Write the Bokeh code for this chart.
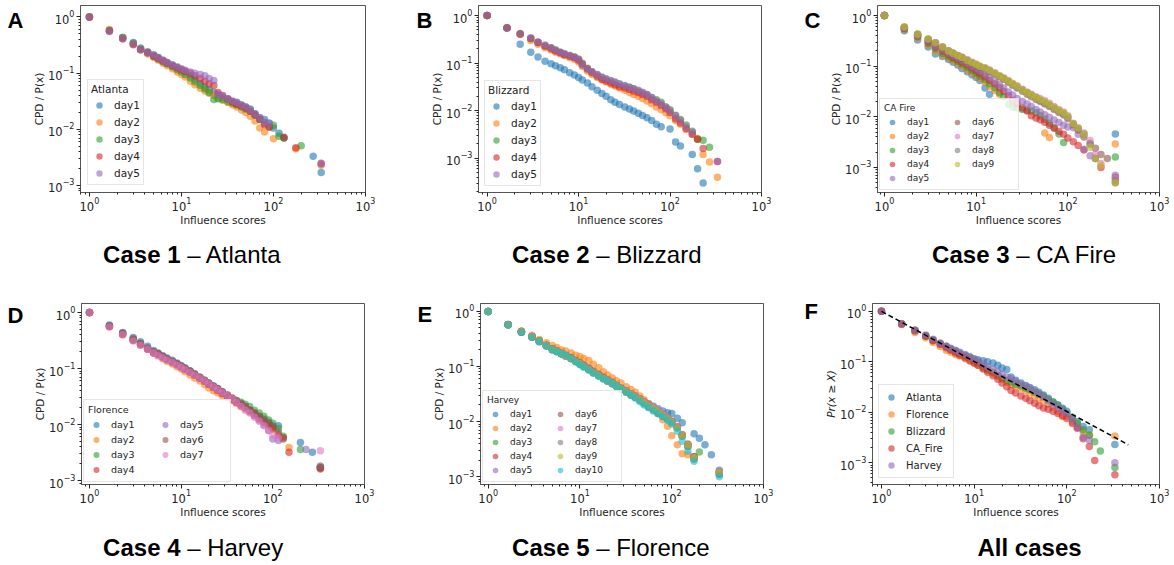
from bokeh.plotting import figure
from bokeh.models import Range1d, FixedTicker, LogTickFormatter, Legend, LegendItem, Label
from bokeh.layouts import column, row
from bokeh.embed import file_html
from bokeh.resources import INLINE

N = None
TAB10 = ["#1f77b4", "#ff7f0e", "#2ca02c", "#d62728", "#9467bd",
         "#8c564b", "#e377c2", "#7f7f7f", "#bcbd22", "#17becf"]

# influence-score grid shared by all series (x values)
G = [1, 1.65, 2.3, 3, 3.6, 4.3, 5, 5.6, 6.3, 7,
     8, 9, 10, 11, 12.5, 14, 16, 18, 20, 22.5,
     25, 28, 32, 36, 40, 45, 50, 56, 63, 71,
     80, 90, 100, 115, 130, 150, 175, 200, 230, 270,
     330]

# ---------------- Panel A : Atlanta ----------------
a_names = ["day1", "day2", "day3", "day4", "day5"]
a_day1 = [1, .57, .43, .35, .28, .24, .21, .19, .17, .155,
          .14, .125, .115, .105, .09, .078, .065, .056, .05, .045,
          .041, .037, .034, .031, .03, .027, .025, .023, .019, .016,
          .015, .013, .0105, .0085, .007, N, N, N, N, .0033,
          .0017]
a_day2 = [1, .6, .42, .33, .26, .22, .19, .17, .15, .135,
          .12, .105, .095, .085, .072, .062, .054, .048, .044, .04,
          .036, .033, .03, .027, .025, .022, .02, .017, .014, .0105,
          .009, N, .0068, N, N, N, .0045, N, N, N,
          .0023]
a_day3 = [1, .58, .43, .34, .27, .23, .2, .18, .16, .145,
          .13, .115, .105, .095, .082, .07, .06, .052, .045, .034,
          .035, .034, .031, .029, .027, .025, .023, .021, .018, .015,
          .013, .011, .0118, .0075, .007, N, N, .0051, N, N,
          N]
a_day4 = [1, .56, .41, .32, .26, .23, .2, .18, .165, .15,
          .135, .125, .115, .108, .1, .09, .08, .072, .065, .06,
          .045, .04, .035, .031, .028, .026, .024, .021, .018, .015,
          .012, .011, N, N, .0072, N, .0047, N, N, N,
          .0025]
a_day5 = [1, .55, .41, .33, .26, .23, .21, .19, .17, .155,
          .14, .13, .12, .112, .105, .1, .095, .09, .08, .074,
          .042, .039, .035, .032, .03, .027, .025, .022, .019, .016,
          .0135, .0125, N, N, N, N, N, N, N, N,
          .0024]

# ---------------- Panel B : Blizzard ----------------
b_names = ["day1", "day2", "day3", "day4", "day5"]
b_day1 = [1, .55, .25, .17, .135, .11, .097, .088, .08, .073,
          .063, .056, .05, .044, .038, .032, .027, .023, .02, .017,
          .015, .0135, .012, .0108, .0098, .0088, .0079, .0071, .0062, .0052,
          .0046, N, .0041, .0022, .0018, N, .0012, .0006, .0003, N,
          N]
b_day2 = [1, .56, .4, .3, .25, .21, .19, .17, .155, .145,
          .13, .12, .105, .085, .068, .058, .05, .044, .04, .036,
          .033, .03, .027, .024, .022, .02, .018, .016, .014, .012,
          .0105, .009, .0078, .0062, .0052, .004, .0032, .0026, .0012, .00083,
          .0004]
b_day3 = [1, .55, .42, .33, .27, .23, .21, .19, .17, .155,
          .145, .135, .12, .1, .078, .066, .057, .05, .046, .042,
          .039, .036, .033, .031, .029, .026, .024, .022, .019, .017,
          .015, .012, .0105, .008, .0065, .005, .0037, .0025, .0024, .0017,
          N]
b_day4 = [1, .55, .41, .33, .27, .23, .2, .18, .165, .15,
          .14, .13, .115, .095, .075, .063, .053, .046, .042, .038,
          .035, .032, .03, .028, .026, .024, .022, .02, .017, .015,
          .013, .011, .0092, .0068, .0055, .0042, .0032, .0025, .0016, N,
          .00085]
b_day5 = [1, .55, .41, .34, .28, .24, .21, .19, .17, .16,
          .145, .135, .12, .09, .075, .066, .058, .051, .047, .043,
          .04, .037, .034, .031, .029, .027, .024, .022, .019, .016,
          .014, .012, .01, .0078, .0062, .0046, .0035, N, N, N,
          .00085]

# ---------------- Panel C : CA Fire ----------------
c_names = ["day1", "day2", "day3", "day4", "day5", "day6", "day7", "day8", "day9"]
c_day1 = [1, .5, .33, .24, .175, .155, .135, .12, .105, .09,
          .078, .068, .06, .052, .037, .028, N, N, N, N,
          N, N, N, N, N, N, N, N, N, N,
          N, N, N, N, N, N, N, N, N, N,
          .0046]
c_day2 = [1, .53, .36, .26, .2, .165, .145, .13, .115, .1,
          .085, .075, .066, .058, .048, .04, .033, .028, N, N,
          N, N, N, N, N, N, N, .0048, .0039, N,
          N, N, N, N, N, N, N, N, N, N,
          .0029]
c_day3 = [1, .55, .38, .28, .22, .18, .155, .14, .125, .11,
          .095, .083, .073, .064, .054, .045, .037, .03, .025, .018,
          .0155, .015, .014, .0135, .013, .012, .0105, .009, .0075, .006,
          .0046, .0031, N, N, N, N, N, N, N, N,
          .0016]
c_day4 = [1, .56, .4, .3, .24, .2, .17, .15, .135, .12,
          .105, .092, .082, .072, .062, .053, .045, .038, .032, .026,
          .021, .018, .015, .013, .0105, .0095, .0088, .0078, .0068, .006,
          .0052, .0045, .0038, .0032, .0027, .0022, N, N, .001, N,
          .00064]
c_day5 = [1, .57, .41, .31, .25, .21, .18, .16, .145, .13,
          .115, .1, .09, .08, .07, .06, .05, .043, .037, .031,
          .027, .023, .02, .018, .016, .014, .0125, .011, .0098, .0087,
          .0077, .0068, .0063, .0061, .0045, .0023, .0017, .0015, N, N,
          .0007]
c_day6 = [1, .58, .42, .33, .28, .23, .2, .18, .16, .145,
          .13, .115, .104, .096, .088, .079, .069, .061, .055, .048,
          .042, .037, .032, .028, .025, .022, .02, .018, .016, .014,
          .0122, .0108, .0092, .007, .0055, .004, .003, .0024, .0018, .0015,
          .0005]
c_day7 = [1, .59, .42, .34, .29, .24, .2, .18, .165, .15,
          .135, .12, .11, .1, .093, .084, .074, .065, .059, .052,
          .046, .041, .035, .031, .028, .025, .023, .021, .0185, .016,
          .014, .0125, .0105, .0075, .006, .0048, .0034, .0018, .0012, N,
          .0006]
c_day8 = [1, .59, .43, .34, .29, .24, .2, .18, .16, .15,
          .13, .117, .106, .098, .09, .081, .071, .063, .057, .05,
          .044, .039, .034, .03, .027, .024, .021, .019, .017, .015,
          .013, .0115, .0098, .0072, .0058, .0045, .0028, .0015, N, N,
          .00055]
c_day9 = [1, .6, .43, .35, .29, .24, .2, .18, .16, .148,
          .13, .118, .108, .1, .092, .083, .073, .064, .058, .051,
          .045, .04, .034, .03, .027, .024, .022, .02, .0177, .0155,
          .0135, .012, .0102, .0073, .006, .0046, .0025, .0015, .0011, N,
          .0005]

# ---------------- Panel D : Florence (Case 4 caption) ----------------
d_names = ["day1", "day2", "day3", "day4", "day5", "day6", "day7"]
d_day1 = [1, .6, .44, .36, .3, .25, .21, .19, .17, .155,
          .14, .125, .113, .103, .09, .08, .07, .062, .055, .049,
          .044, .038, .032, .028, .025, .023, .021, .018, .016, .014,
          .0125, .011, .0095, .0095, N, N, N, .0048, N, .0032,
          .0017]
d_day2 = [1, .56, .4, .32, .26, .22, .19, .17, .15, .135,
          .12, .108, .098, .088, .077, .068, .06, .052, .045, .04,
          .037, .033, .03, .027, .024, .021, .019, .017, .0145, .0125,
          .011, .0095, .0082, N, N, .0039, N, N, N, N,
          .0018]
d_day3 = [1, .58, .42, .33, .28, .23, .2, .18, .16, .148,
          .132, .12, .108, .098, .088, .078, .068, .06, .053, .047,
          .042, .037, .033, .029, .027, .025, .023, .021, .018, .016,
          .014, .012, .0105, .0085, .0062, N, N, .0036, N, N,
          .0017]
d_day4 = [1, .57, .41, .32, .27, .22, .19, .18, .16, .145,
          .13, .118, .106, .097, .086, .076, .067, .059, .052, .046,
          .041, .036, .032, .028, .025, .022, .02, .018, .0155, .013,
          .011, .0098, .0085, .0065, .0058, .0032, N, N, N, N,
          .0016]
d_day5 = [1, .57, .42, .33, .27, .23, .2, .18, .16, .148,
          .133, .12, .11, .1, .09, .08, .07, .061, .054, .048,
          .043, .038, .033, .029, .026, .023, .02, .017, .0145, .012,
          .0098, .0078, .0055, .0052, N, N, N, N, .0036, N,
          .0018]
d_day6 = [1, .57, .43, .34, .28, .23, .2, .185, .165, .15,
          .135, .122, .11, .1, .09, .08, .07, .062, .055, .049,
          .044, .039, .034, .03, .027, .024, .021, .018, .016, .014,
          .012, .0105, .009, .0072, .0055, N, N, N, N, N,
          .0017]
d_day7 = [1, .55, .4, .31, .26, .22, .19, .17, .155, .14,
          .128, .115, .105, .095, .085, .076, .068, .06, .053, .047,
          .042, .037, .033, .029, .025, .021, .018, .016, .0135, .0115,
          .0095, .0078, .0065, .0058, N, N, N, N, N, N,
          .0034]

# ---------------- Panel E : Harvey (Case 5 caption) ----------------
e_names = ["day1", "day2", "day3", "day4", "day5", "day6", "day7", "day8", "day9", "day10"]
e_day1 = [1, .58, .43, .35, .29, .245, .21, .19, .175, .16,
          .145, .13, .118, .107, .095, .083, .073, .065, .058, .052,
          .046, .041, .036, .032, .029, .026, .023, .021, .019, .017,
          .0155, .0145, .014, .0115, .0095, N, .006, .005, .0038, .0025,
          .0013]
e_day2 = [1, .58, .44, .37, .31, .27, .24, .22, .2, .19,
          .175, .16, .15, .14, .128, .11, .095, .08, .07, .062,
          .055, .05, .043, .038, .034, .029, .025, .021, .0177, .014,
          .0108, .0082, .0055, .0038, .0026, .0025, N, N, N, N,
          .0011]
e_day3 = [1, .57, .42, .35, .29, .24, .21, .19, .17, .158,
          .142, .127, .114, .102, .09, .079, .07, .062, .056, .05,
          .045, .04, .035, .031, .028, .025, .022, .019, .017, .015,
          .013, .0115, .01, .0078, .0055, .0035, .0021, .0028, N, N,
          .0012]
e_day4 = [1, .57, .43, .35, .29, .24, .205, .19, .172, .158,
          .142, .127, .114, .103, .09, .079, .069, .061, .055, .049,
          .044, .039, .035, .031, .028, .025, .022, .019, .017, .015,
          .013, .0115, .01, .008, .0056, .0038, .0023, N, N, N,
          .0012]
e_day5 = [1, .58, .42, .35, .29, .24, .205, .188, .17, .156,
          .14, .125, .112, .101, .089, .078, .069, .061, .055, .049,
          .044, .039, .035, .031, .028, .025, .022, .019, .017, .015,
          .013, .0115, .0098, .0078, .0055, .0036, .0022, N, N, N,
          .0011]
e_day6 = [1, .57, .43, .34, .29, .24, .205, .188, .17, .155,
          .14, .125, .112, .101, .089, .078, .069, .061, .055, .05,
          .045, .04, .036, .032, .029, .026, .023, .02, .0175, .0155,
          .0135, .0118, .01, .008, .0058, .0039, .0023, N, N, N,
          .0012]
e_day7 = [1, .58, .43, .35, .29, .24, .205, .19, .172, .157,
          .141, .126, .113, .102, .09, .079, .07, .062, .056, .05,
          .045, .04, .036, .032, .029, .026, .023, .02, .018, .016,
          .014, .012, .0102, .0081, .0057, .0038, .0022, N, N, N,
          .0012]
e_day8 = [1, .57, .42, .34, .28, .235, .2, .185, .168, .153,
          .138, .123, .11, .1, .088, .077, .068, .06, .054, .048,
          .043, .038, .034, .03, .027, .024, .021, .018, .016, .014,
          .0125, .011, .0095, .0076, .0054, .0036, .0021, N, N, N,
          .0011]
e_day9 = [1, .57, .43, .35, .29, .24, .205, .188, .17, .155,
          .14, .125, .112, .1, .088, .077, .068, .06, .054, .049,
          .044, .039, .035, .031, .028, .025, .022, .019, .017, .015,
          .013, .0112, .0097, .0077, .0055, .0037, .0022, N, N, N,
          .0012]
e_day10 = [1, .57, .42, .34, .28, .235, .2, .185, .17, .16,
           .14, .12, .107, .097, .085, .075, .066, .059, .054, .049,
           .044, .039, .034, .03, .027, .023, .02, .018, .0155, .0138,
           .0122, .0105, .009, .0067, .0044, .0029, .0019, N, N, N,
           .001]

# ---------------- Panel F : all cases ----------------
f_names = ["Atlanta", "Florence", "Blizzard", "CA_Fire", "Harvey"]
f_atl = [1, .56, .42, .33, .27, .23, .2, .18, .165, .15,
         .135, .125, .115, .11, .105, .1, .095, .085, .075, .07,
         .05, .043, .038, .034, .031, .028, .025, .022, .019, .016,
         .014, .012, .0105, .008, .0065, .0052, .0045, N, N, N,
         .0023]
f_flo = [1, .55, .38, .3, .24, .2, .17, .155, .14, .13,
         .115, .105, .095, .085, .075, .067, .058, .051, .045, .04,
         .036, .033, .03, .027, .024, .021, .019, .017, .0145, .0125,
         .0105, .0082, .0082, .0065, .005, .004, .0035, N, N, N,
         .0034]
f_bli = [1, .57, .42, .33, .27, .23, .2, .18, .16, .145,
         .13, .12, .105, .095, .08, .07, .062, .054, .048, .043,
         .04, .036, .033, .03, .028, .025, .023, .021, .018, .016,
         .014, .0115, .0095, .0075, .006, .0045, .0035, .0026, .0017, N,
         .0008]
f_caf = [1, .56, .41, .32, .26, .22, .19, .17, .15, .135,
         .12, .105, .095, .085, .072, .062, .053, .045, .038, .032,
         .027, .024, .021, .019, .017, .015, .0135, .0122, .0115, .0105,
         .0095, .0085, .0075, .006, .0048, .003, .0021, .0011, N, N,
         .00058]
f_har = [1, .57, .42, .34, .28, .235, .205, .185, .17, .155,
         .14, .125, .112, .102, .09, .08, .07, .063, .056, .05,
         .046, .041, .036, .033, .03, .026, .023, .02, .017, .0145,
         .0125, .011, .0095, .0072, .005, .0032, .0028, N, N, N,
         .001]
fit_x = [1, 460]
fit_y = [1, 0.00227]

X_MAJOR = [1, 10, 100, 1000]
X_MINOR = [m * 10.0 ** e for e in range(-1, 3) for m in range(2, 10)]
Y_MAJOR = [1e-4, 1e-3, 1e-2, 1e-1, 1]
Y_MINOR = [m * 10.0 ** e for e in range(-4, 1) for m in range(2, 10)]

FRAME_COL = "#555555"
TXT = "#222222"


def txt_label(x, y, text, size, style, align):
    return Label(x=x, y=y, x_units="screen", y_units="screen", text=text,
                 text_font="Liberation Sans", text_font_size=size,
                 text_font_style=style, text_color="black",
                 text_align=align, text_baseline="alphabetic")


def make_panel(cfg):
    w, h, l, r, t, b = cfg["box"]
    p = figure(x_axis_type="log", y_axis_type="log",
               x_range=Range1d(*cfg["xr"]), y_range=Range1d(*cfg["yr"]),
               width=w, height=h,
               min_border_left=l, min_border_right=r,
               min_border_top=t, min_border_bottom=b,
               output_backend="svg", toolbar_location=None,
               background_fill_color="white", border_fill_color="white",
               outline_line_color=FRAME_COL, outline_line_width=1)
    p.grid.visible = False
    for ax, maj, mnr in ((p.xaxis[0], X_MAJOR, X_MINOR), (p.yaxis[0], Y_MAJOR, Y_MINOR)):
        ax.ticker = FixedTicker(ticks=maj, minor_ticks=mnr)
        ax.formatter = LogTickFormatter()
        ax.axis_line_color = FRAME_COL
        ax.major_tick_line_color = TXT
        ax.minor_tick_line_color = TXT
        ax.major_tick_in = 0
        ax.major_tick_out = 4
        ax.minor_tick_in = 0
        ax.minor_tick_out = 2
        ax.major_label_text_font = "DejaVu Sans"
        ax.major_label_text_font_size = "11.5px"
        ax.major_label_text_color = TXT
        ax.axis_label_text_font = "DejaVu Sans"
        ax.axis_label_text_font_size = "10.5px"
        ax.axis_label_text_font_style = "normal"
        ax.axis_label_text_color = TXT
    p.xaxis.axis_label = "Influence scores"
    p.xaxis.major_label_standoff = 0
    p.xaxis.axis_label_standoff = 0
    p.yaxis.axis_label = cfg["ylabel"]
    p.yaxis.major_label_standoff = 2
    p.yaxis.axis_label_standoff = 0
    if cfg.get("ylabel_italic"):
        p.yaxis.axis_label_text_font_style = "italic"

    items = []
    for i, (name, ys) in enumerate(zip(cfg["names"], cfg["series"])):
        xs = [x for x, y in zip(G, ys) if y is not None]
        yv = [y for y in ys if y is not None]
        rr = p.scatter(xs, yv, size=7.5, marker="circle", fill_color=TAB10[i],
                       fill_alpha=0.6, line_color=None)
        items.append(LegendItem(label=name, renderers=[rr]))
    if cfg.get("fit"):
        p.line(fit_x, fit_y, line_color="black", line_width=1.5, line_dash="5 3")

    lg = cfg["legend"]
    kw = dict(items=items, location="bottom_left",
              label_text_font="DejaVu Sans", label_text_font_size=lg["fs"],
              label_text_color=TXT,
              glyph_width=16, glyph_height=lg["gh"], label_height=lg["gh"],
              label_standoff=lg.get("ls", 7), spacing=lg["sp"],
              padding=lg["pad"], margin=lg["margin"],
              border_line_color="#cccccc", border_line_width=1,
              background_fill_color="white", background_fill_alpha=0.8)
    if lg.get("title"):
        kw.update(title=lg["title"], title_text_font="DejaVu Sans",
                  title_text_font_size=lg["fs"], title_text_font_style="normal",
                  title_text_color=TXT, title_standoff=2)
    if lg.get("nrows"):
        kw.update(nrows=lg["nrows"], label_width=lg["lw"])
    p.add_layout(Legend(**kw))

    # panel letter in the left side panel (outside the y axis)
    lx, ly = cfg["letter"]
    p.add_layout(txt_label(lx, ly, cfg["letter_text"], "22px", "bold", "left"), "left")
    return p


def make_caption(width, height, x, y, bold, rest):
    c = figure(width=width, height=height, x_range=Range1d(0, 1), y_range=Range1d(0, 1),
               min_border=0, x_axis_location=None, y_axis_location=None,
               output_backend="svg", toolbar_location=None,
               outline_line_color=None, background_fill_color="white",
               border_fill_color="white")
    c.grid.visible = False
    if rest:
        c.add_layout(txt_label(x, y, bold, "24px", "bold", "right"))
        c.add_layout(txt_label(x, y, rest, "24px", "normal", "left"))
    else:
        c.add_layout(txt_label(x, y, bold, "24px", "bold", "left"))
    return c


LG_BIG = dict(fs="10.5px", gh=16, sp=1, pad=3, margin=7)
panels = [
    dict(xr=(0.8, 1000), yr=(7.5e-4, 1.6), box=(390, 232, 80, 25, 5, 40),
         ylabel="CPD / P(x)", names=a_names,
         series=[a_day1, a_day2, a_day3, a_day4, a_day5],
         legend=dict(LG_BIG, title="Atlanta"),
         letter=(-7, 172), letter_text="A"),
    dict(xr=(0.805, 1000), yr=(1.9e-4, 1.63), box=(390, 232, 88, 19, 5, 40),
         ylabel="CPD / P(x)", names=b_names,
         series=[b_day1, b_day2, b_day3, b_day4, b_day5],
         legend=dict(LG_BIG, title="Blizzard", margin=6),
         letter=(4, 172), letter_text="B"),
    dict(xr=(0.84, 1000), yr=(3.2e-4, 1.58), box=(394, 232, 97, 15, 5, 40),
         ylabel="CPD / P(x)", names=c_names,
         series=[c_day1, c_day2, c_day3, c_day4, c_day5, c_day6, c_day7, c_day8, c_day9],
         legend=dict(fs="9px", gh=14, sp=0, pad=4, margin=2, title="CA Fire", nrows=5, lw=42),
         letter=(-7, 172), letter_text="C"),
    dict(xr=(0.818, 1000), yr=(8.5e-4, 1.45), box=(390, 242, 81, 26, 21, 40),
         ylabel="CPD / P(x)", names=d_names,
         series=[d_day1, d_day2, d_day3, d_day4, d_day5, d_day6, d_day7],
         legend=dict(fs="9.5px", gh=15, sp=0, pad=4, margin=2, title="Florence", nrows=4, lw=46),
         letter=(-8, 169), letter_text="D"),
    dict(xr=(0.824, 1000), yr=(7.2e-4, 1.39), box=(390, 242, 90, 17, 20, 40),
         ylabel="CPD / P(x)", names=e_names,
         series=[e_day1, e_day2, e_day3, e_day4, e_day5, e_day6, e_day7, e_day8, e_day9, e_day10],
         legend=dict(fs="9px", gh=14, sp=0, pad=4, margin=2, title="Harvey", nrows=5, lw=42),
         letter=(2, 170), letter_text="E"),
    dict(xr=(0.8, 1000), yr=(3.7e-4, 1.43), box=(394, 242, 92, 15, 20, 37),
         ylabel="Pr(x \u2265 X)", ylabel_italic=True, names=f_names,
         series=[f_atl, f_flo, f_bli, f_caf, f_har], fit=True,
         legend=dict(fs="10px", gh=16, sp=1, pad=4, margin=6),
         letter=(-5, 173), letter_text="F"),
]

figs = [make_panel(c) for c in panels]
caps1 = [make_caption(390, 50, 180, 28, "Case 1", "\u00a0\u2013 Atlanta"),
         make_caption(390, 50, 199, 28, "Case 2", "\u00a0\u2013 Blizzard"),
         make_caption(394, 50, 229, 28, "Case 3", "\u00a0\u2013 CA Fire")]
caps2 = [make_caption(390, 41, 180, 18, "Case 4", "\u00a0\u2013 Harvey"),
         make_caption(390, 41, 199, 18, "Case 5", "\u00a0\u2013 Florence"),
         make_caption(394, 41, 197, 18, "All cases", "")]

layout = column(row(*figs[:3]), row(*caps1), row(*figs[3:]), row(*caps2))

open("out.html", "w").write(file_html(layout, INLINE))
